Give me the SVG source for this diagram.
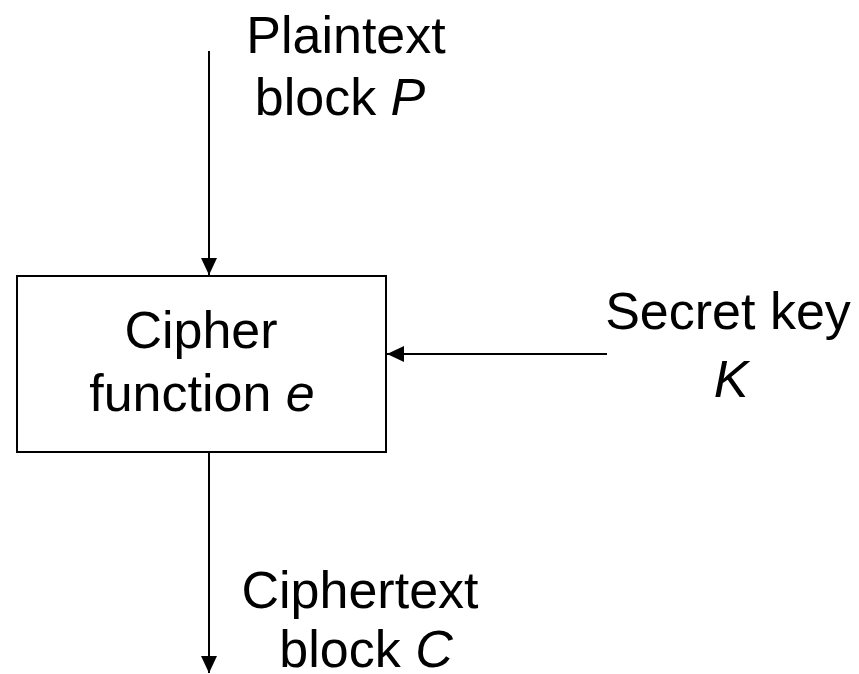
<svg xmlns="http://www.w3.org/2000/svg" width="859" height="674" viewBox="0 0 859 674">
  <style>
    .lbl { font-family: "Liberation Sans", Arial, sans-serif; font-size: 52px; fill: #000; text-anchor: middle; }
    .var { font-style: italic; }
    .box { fill: #fff; stroke: #000; stroke-width: 2; }
    .wire { fill: none; stroke: #000; stroke-width: 2; }
  </style>
  <defs>
    <marker id="arrow" viewBox="0 0 17 16" refX="17" refY="8" markerWidth="17" markerHeight="16" markerUnits="userSpaceOnUse" orient="auto">
      <path d="M0,0 L17,8 L0,16 Z" fill="#000"/>
    </marker>
  </defs>

  <rect width="859" height="674" fill="#fff"/>

  <!-- connectors -->
  <g id="connectors">
    <line class="wire" x1="209" y1="51" x2="209" y2="275" marker-end="url(#arrow)"/>
    <line class="wire" x1="607" y1="354" x2="387" y2="354" marker-end="url(#arrow)"/>
    <line class="wire" x1="209" y1="452" x2="209" y2="673" marker-end="url(#arrow)"/>
  </g>

  <!-- cipher function box -->
  <g id="cipher">
    <rect class="box" x="17" y="276" width="369" height="176"/>
    <text class="lbl" x="201" y="348">Cipher</text>
    <text class="lbl" x="202" y="411">function <tspan class="var">e</tspan></text>
  </g>

  <!-- plaintext input label -->
  <g id="plaintext">
    <text class="lbl" x="346" y="53">Plaintext</text>
    <text class="lbl" x="340" y="115">block <tspan class="var">P</tspan></text>
  </g>

  <!-- secret key label -->
  <g id="key">
    <text class="lbl" x="728" y="329">Secret key</text>
    <text class="lbl var" x="731" y="397">K</text>
  </g>

  <!-- ciphertext output label -->
  <g id="ciphertext">
    <text class="lbl" x="360" y="608">Ciphertext</text>
    <text class="lbl" x="366" y="667">block <tspan class="var">C</tspan></text>
  </g>
</svg>
